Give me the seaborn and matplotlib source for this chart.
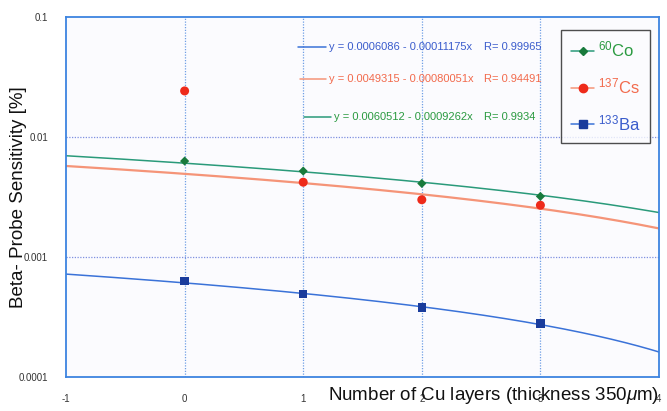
import numpy as np
import pandas as pd
import matplotlib
matplotlib.use("Agg")
import matplotlib.pyplot as plt
import seaborn as sns
from matplotlib.lines import Line2D

# Measured sensitivities per number of Cu layers
layers = [0, 1, 2, 3]
co60 = [0.0063, 0.0052, 0.0041, 0.0032]
cs137 = [0.0242, 0.0042, 0.0030, 0.0027]
ba133 = [0.00063, 0.00049, 0.00038, 0.00028]

# Linear fits: y = a - b*x
fit_co = (0.0060512, 0.0009262, "0.9934")
fit_cs = (0.0049315, 0.00080051, "0.94491")
fit_ba = (0.0006086, 0.00011175, "0.99965")

xticks = [-1, 0, 1, 2, 3, 4]
yticks = [0.0001, 0.001, 0.01, 0.1]
ytick_labels = ["0.0001", "0.001", "0.01", "0.1"]

sns.set_theme(style="white")
plt.rcParams["font.family"] = ["Liberation Sans", "DejaVu Sans"]
plt.rcParams["mathtext.fontset"] = "custom"
plt.rcParams["mathtext.rm"] = "Liberation Sans"
plt.rcParams["mathtext.it"] = "Liberation Sans:italic"

fig = plt.figure(figsize=(6.67, 4.11), dpi=100)
fig.patch.set_facecolor("white")
ax = fig.add_axes([0.099, 0.0827, 0.889, 0.876])
ax.set_facecolor("#fbfbfe")

iso = {
    "Co": dict(data=co60, fit=fit_co, line="#2a9a7a", mk="#187a3c", marker="D", ms=22,
               txt="#2a9a40", label=r"$^{60}$Co"),
    "Cs": dict(data=cs137, fit=fit_cs, line="#f59478", mk="#ee2a1a", marker="o", ms=42,
               txt="#f26a4c", label=r"$^{137}$Cs"),
    "Ba": dict(data=ba133, fit=fit_ba, line="#3a72d8", mk="#1a3c9c", marker="s", ms=38,
               txt="#3a5ccc", label=r"$^{133}$Ba"),
}

xf = np.linspace(-1, 4, 200)
fit_rows = []
pt_rows = []
for k, d in iso.items():
    a, b, _ = d["fit"]
    fit_rows.append(pd.DataFrame({"x": xf, "y": a - b * xf, "iso": k}))
    pt_rows.append(pd.DataFrame({"x": layers, "y": d["data"], "iso": k}))
fits = pd.concat(fit_rows)
pts = pd.concat(pt_rows)

# dotted grid
for gx in [0, 1, 2, 3]:
    ax.axvline(gx, color="#6f9ee6", ls=(0, (1, 1.2)), lw=0.9, zorder=0)
for gy in [0.001, 0.01]:
    ax.axhline(gy, color="#7f90e0", ls=(0, (1, 1.2)), lw=0.9, zorder=0)

for k, d in iso.items():
    sub = fits[fits.iso == k]
    sns.lineplot(data=sub, x="x", y="y", ax=ax, color=d["line"],
                 lw=1.6 if k == "Cs" else 1.1, legend=False, zorder=2)
    sp = pts[pts.iso == k]
    sns.scatterplot(data=sp, x="x", y="y", ax=ax, color=d["mk"], marker=d["marker"],
                    s=d["ms"], edgecolor="none", legend=False, zorder=3)

ax.set_yscale("log")
ax.set_xlim(-1, 4)
ax.set_ylim(0.0001, 0.1)
ax.set_xticks(xticks)
ax.set_xticklabels([str(t) for t in xticks])
ax.set_yticks(yticks)
ax.set_yticklabels(ytick_labels)
ax.minorticks_off()
ax.tick_params(axis="both", length=0, labelsize=7, colors="#333333")
ax.tick_params(axis="x", pad=12)
ax.tick_params(axis="y", pad=13)

for s in ax.spines.values():
    s.set_color("#3d84e0")
    s.set_linewidth(1.3)

ax.set_xlabel("")
ax.set_ylabel("")
fig.text(0.988, 0.012, r"Number of Cu layers (thickness 350$\mathit{\mu}$m)", ha="right",
         va="bottom", fontsize=13.5, color="#111111")
fig.text(0.027, 0.52, "Beta- Probe Sensitivity [%]", rotation=90, ha="center", va="center",
         fontsize=13.5, color="#111111")

# fit equations with line samples
eqs = [("Ba", 0.917, 0.391, 0.443), ("Cs", 0.828, 0.394, 0.443), ("Co", 0.722, 0.402, 0.452)]
for k, yy, x0, xt in eqs:
    d = iso[k]
    a, b, r = d["fit"]
    ax.plot([x0, xt - 0.005], [yy, yy], transform=ax.transAxes, color=d["line"], lw=1.1)
    ax.text(xt, yy, f"y = {a:g} - {b:.8g}x", transform=ax.transAxes, color=d["txt"],
            fontsize=8, va="center", ha="left")
    ax.text(0.705, yy, f"R= {r}", transform=ax.transAxes, color=d["txt"],
            fontsize=8, va="center", ha="left")

# legend
handles = []
mk_sizes = {"Co": 4.0, "Cs": 6.0, "Ba": 6.0}
for k in ["Co", "Cs", "Ba"]:
    d = iso[k]
    handles.append(Line2D([0], [0], color=d["line"], lw=1.1, marker=d["marker"],
                          markersize=mk_sizes[k], markerfacecolor=d["mk"],
                          markeredgecolor=d["mk"]))
leg = ax.legend(handles, [iso[k]["label"] for k in ["Co", "Cs", "Ba"]],
                loc="upper left", bbox_to_anchor=(0.835, 0.964), frameon=True,
                fontsize=12, handlelength=1.4, handletextpad=0.2, labelspacing=1.0,
                borderpad=0.6, borderaxespad=0, fancybox=False)
leg.get_frame().set_edgecolor("#222222")
leg.get_frame().set_linewidth(1.0)
leg.get_frame().set_facecolor("#fbfbfe")
for t, k in zip(leg.get_texts(), ["Co", "Cs", "Ba"]):
    t.set_color(iso[k]["txt"])

fig.savefig("out.png", dpi=100)
